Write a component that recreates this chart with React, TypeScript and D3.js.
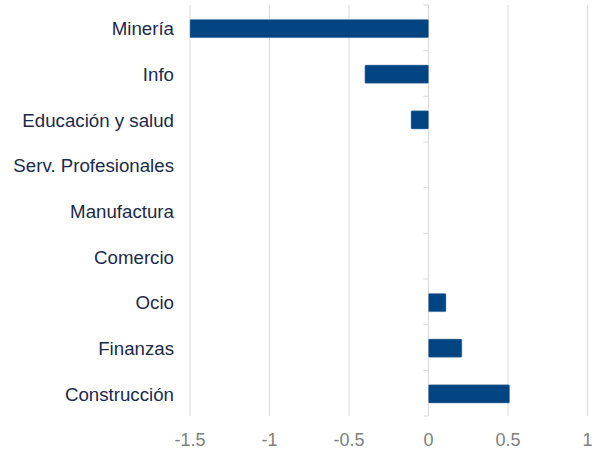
import React from "react";
import * as d3 from "d3";

const categories = [
  "Minería",
  "Info",
  "Educación y salud",
  "Serv. Profesionales",
  "Manufactura",
  "Comercio",
  "Ocio",
  "Finanzas",
  "Construcción",
];
const values = [-1.5, -0.4, -0.11, 0, 0, 0, 0.11, 0.21, 0.51];
const xTicks = [-1.5, -1, -0.5, 0, 0.5, 1];

const W = 608;
const H = 466;
const M = { left: 190, right: 20.5, top: 5, bottom: 50 };

export default function App() {
  const x = d3.scaleLinear().domain([-1.5, 1]).range([M.left, W - M.right]);
  const band = d3.scaleBand<string>().domain(categories).range([M.top, H - M.bottom]);
  const font = "'Liberation Sans', Arial, sans-serif";
  const x0 = x(0);
  const boundaries = [...categories.map((c) => band(c)!), H - M.bottom];
  return (
    <svg
      width={W}
      height={H}
      style={{ position: "absolute", left: 0, top: 0, background: "#fff" }}
    >
      {xTicks.map((t) => (
        <line
          key={"g" + t}
          x1={x(t)}
          x2={x(t)}
          y1={M.top}
          y2={H - M.bottom}
          stroke="#d9d9d9"
          strokeWidth={1}
        />
      ))}
      {boundaries.map((b, i) => (
        <line
          key={"t" + i}
          x1={x0 - 5}
          x2={x0}
          y1={b}
          y2={b}
          stroke="#d9d9d9"
          strokeWidth={1}
        />
      ))}
      {categories.map((c, i) => {
        const v = values[i];
        if (v === 0) return null;
        const xa = x(Math.min(0, v));
        const xb = x(Math.max(0, v));
        const bw = band.bandwidth() * 0.4;
        const yc = band(c)! + band.bandwidth() / 2 + 0.7;
        return (
          <rect
            key={c}
            x={xa}
            y={yc - bw / 2}
            width={xb - xa}
            height={bw}
            fill="#004481"
            stroke="#6f8fb3"
            strokeWidth={0.5}
            rx={1}
          />
        );
      })}
      {categories.map((c) => (
        <text
          key={"l" + c}
          x={174}
          y={band(c)! + band.bandwidth() / 2 + 1}
          textAnchor="end"
          dominantBaseline="central"
          fontFamily={font}
          fontSize={18.7}
          fill="#1c2a4a"
        >
          {c}
        </text>
      ))}
      {xTicks.map((t) => (
        <text
          key={"x" + t}
          x={x(t)}
          y={440}
          textAnchor="middle"
          dominantBaseline="central"
          fontFamily={font}
          fontSize={18}
          fill="#808080"
        >
          {String(t)}
        </text>
      ))}
    </svg>
  );
}
